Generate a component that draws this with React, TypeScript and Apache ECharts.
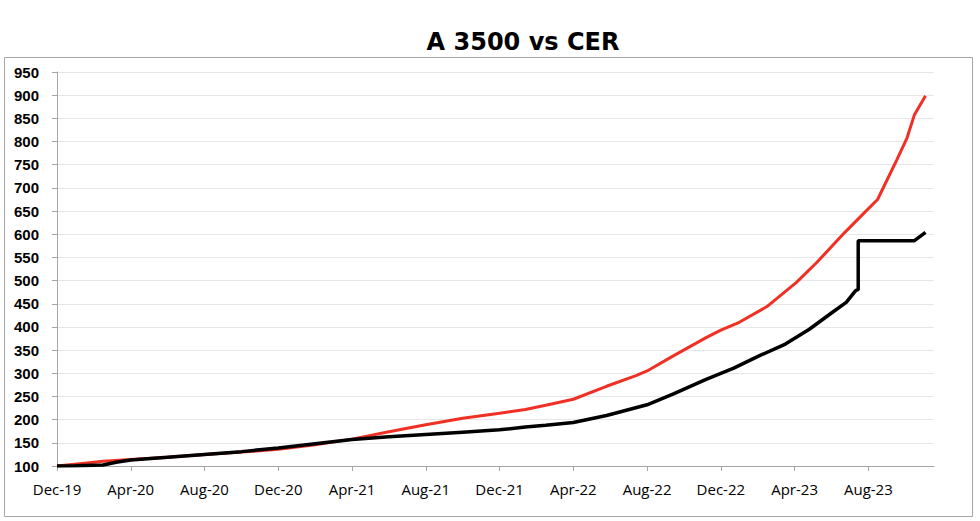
import React, { useEffect, useRef } from "react";
import * as echarts from "echarts";

// x positions are months elapsed since Dec-19
const xTickLabels = ["Dec-19", "Apr-20", "Aug-20", "Dec-20", "Apr-21", "Aug-21", "Dec-21", "Apr-22", "Aug-22", "Dec-22", "Apr-23", "Aug-23"];
const xTickStep = 4;
const xMax = 47.56;

const cerMonths = [0, 1.5, 2.5, 4, 6, 8, 10, 12, 14, 16, 18, 20, 22, 24, 25.4, 26.5, 28, 29.8, 31.4, 32, 33.4, 35.2, 36, 37, 38.5, 40.1, 41.2, 42.7, 43.6, 44.5, 45.55, 46.1, 46.5, 47.1];
const cerValues = [100, 106, 110, 114, 119, 125, 130, 136, 146, 158, 174, 189, 203, 214, 222, 231, 244, 272, 295, 305, 337, 377, 393, 410, 444, 496, 539, 603, 639, 675, 761, 808, 858, 899];

const a3500Months = [0, 1, 2.5, 3.2, 4, 6, 8, 10, 12, 14, 16, 18, 20, 22, 24, 25.4, 26.5, 28, 29.8, 32, 33.4, 35.2, 36, 36.7, 38.1, 39.5, 40.8, 42, 42.8, 43.3, 43.45, 43.45, 46.5, 47.1];
const a3500Values = [100, 100.5, 102, 108, 113, 119, 125, 131, 139, 148, 157, 163, 168, 173, 178, 184, 188, 194, 209, 232, 255, 287, 300, 311, 338, 363, 395, 430, 453, 478, 481, 586, 586, 604];

const yMin = 100;
const yMax = 950;
const yStep = 50;

export default function App() {
  const ref = useRef<HTMLDivElement>(null);
  useEffect(() => {
    if (!ref.current) return;
    const chart = echarts.init(ref.current, null, { renderer: "svg" });
    const tickValues = xTickLabels.map((_, i) => i * xTickStep);
    chart.setOption({
      animation: false,
      backgroundColor: "#ffffff",
      title: {
        text: "A 3500 vs CER",
        left: 518,
        top: 25,
        textAlign: "center",
        textStyle: { fontFamily: "DejaVu Sans", fontWeight: "bold", fontSize: 24, color: "#000" },
      },
      graphic: [
        {
          type: "rect",
          shape: { x: 4.5, y: 57.5, width: 968, height: 459 },
          style: { fill: "none", stroke: "#a6a6a6", lineWidth: 1 },
          silent: true,
          z: -1,
        },
      ],
      grid: { left: 57, right: 46, top: 72, bottom: 55 },
      xAxis: {
        type: "value",
        min: 0,
        max: xMax,
        interval: xTickStep,
        axisLine: { show: true, lineStyle: { color: "#a6a6a6", width: 1 } },
        axisTick: { show: true, length: 5, lineStyle: { color: "#a6a6a6" }, customValues: tickValues },
        splitLine: { show: false },
        axisLabel: {
          customValues: tickValues,
          margin: 15,
          fontFamily: "Open Sans",
          fontSize: 15,
          color: "#000",
          formatter: (v: number) => {
            const i = Math.round(v / xTickStep);
            return xTickLabels[i] ?? "";
          },
        },
      },
      yAxis: {
        type: "value",
        min: yMin,
        max: yMax,
        interval: yStep,
        axisLine: { show: true, lineStyle: { color: "#a6a6a6", width: 1 } },
        axisTick: { show: true, length: 5, lineStyle: { color: "#a6a6a6" } },
        splitLine: { show: true, lineStyle: { color: "#e6e6e6", width: 1 } },
        axisLabel: {
          margin: 18,
          fontFamily: "Liberation Sans",
          fontWeight: "bold",
          fontSize: 15,
          color: "#000",
        },
      },
      series: [
        {
          name: "CER",
          type: "line",
          data: cerMonths.map((m, i) => [m, cerValues[i]]),
          showSymbol: false,
          lineStyle: { color: "#f03024", width: 3 },
          itemStyle: { color: "#f03024" },
          z: 2,
        },
        {
          name: "A 3500",
          type: "line",
          data: a3500Months.map((m, i) => [m, a3500Values[i]]),
          showSymbol: false,
          lineStyle: { color: "#000000", width: 3.5 },
          itemStyle: { color: "#000000" },
          z: 3,
        },
      ],
    });
    return () => chart.dispose();
  }, []);
  return <div ref={ref} style={{ position: "fixed", left: 0, top: 0, width: 980, height: 521 }} />;
}
